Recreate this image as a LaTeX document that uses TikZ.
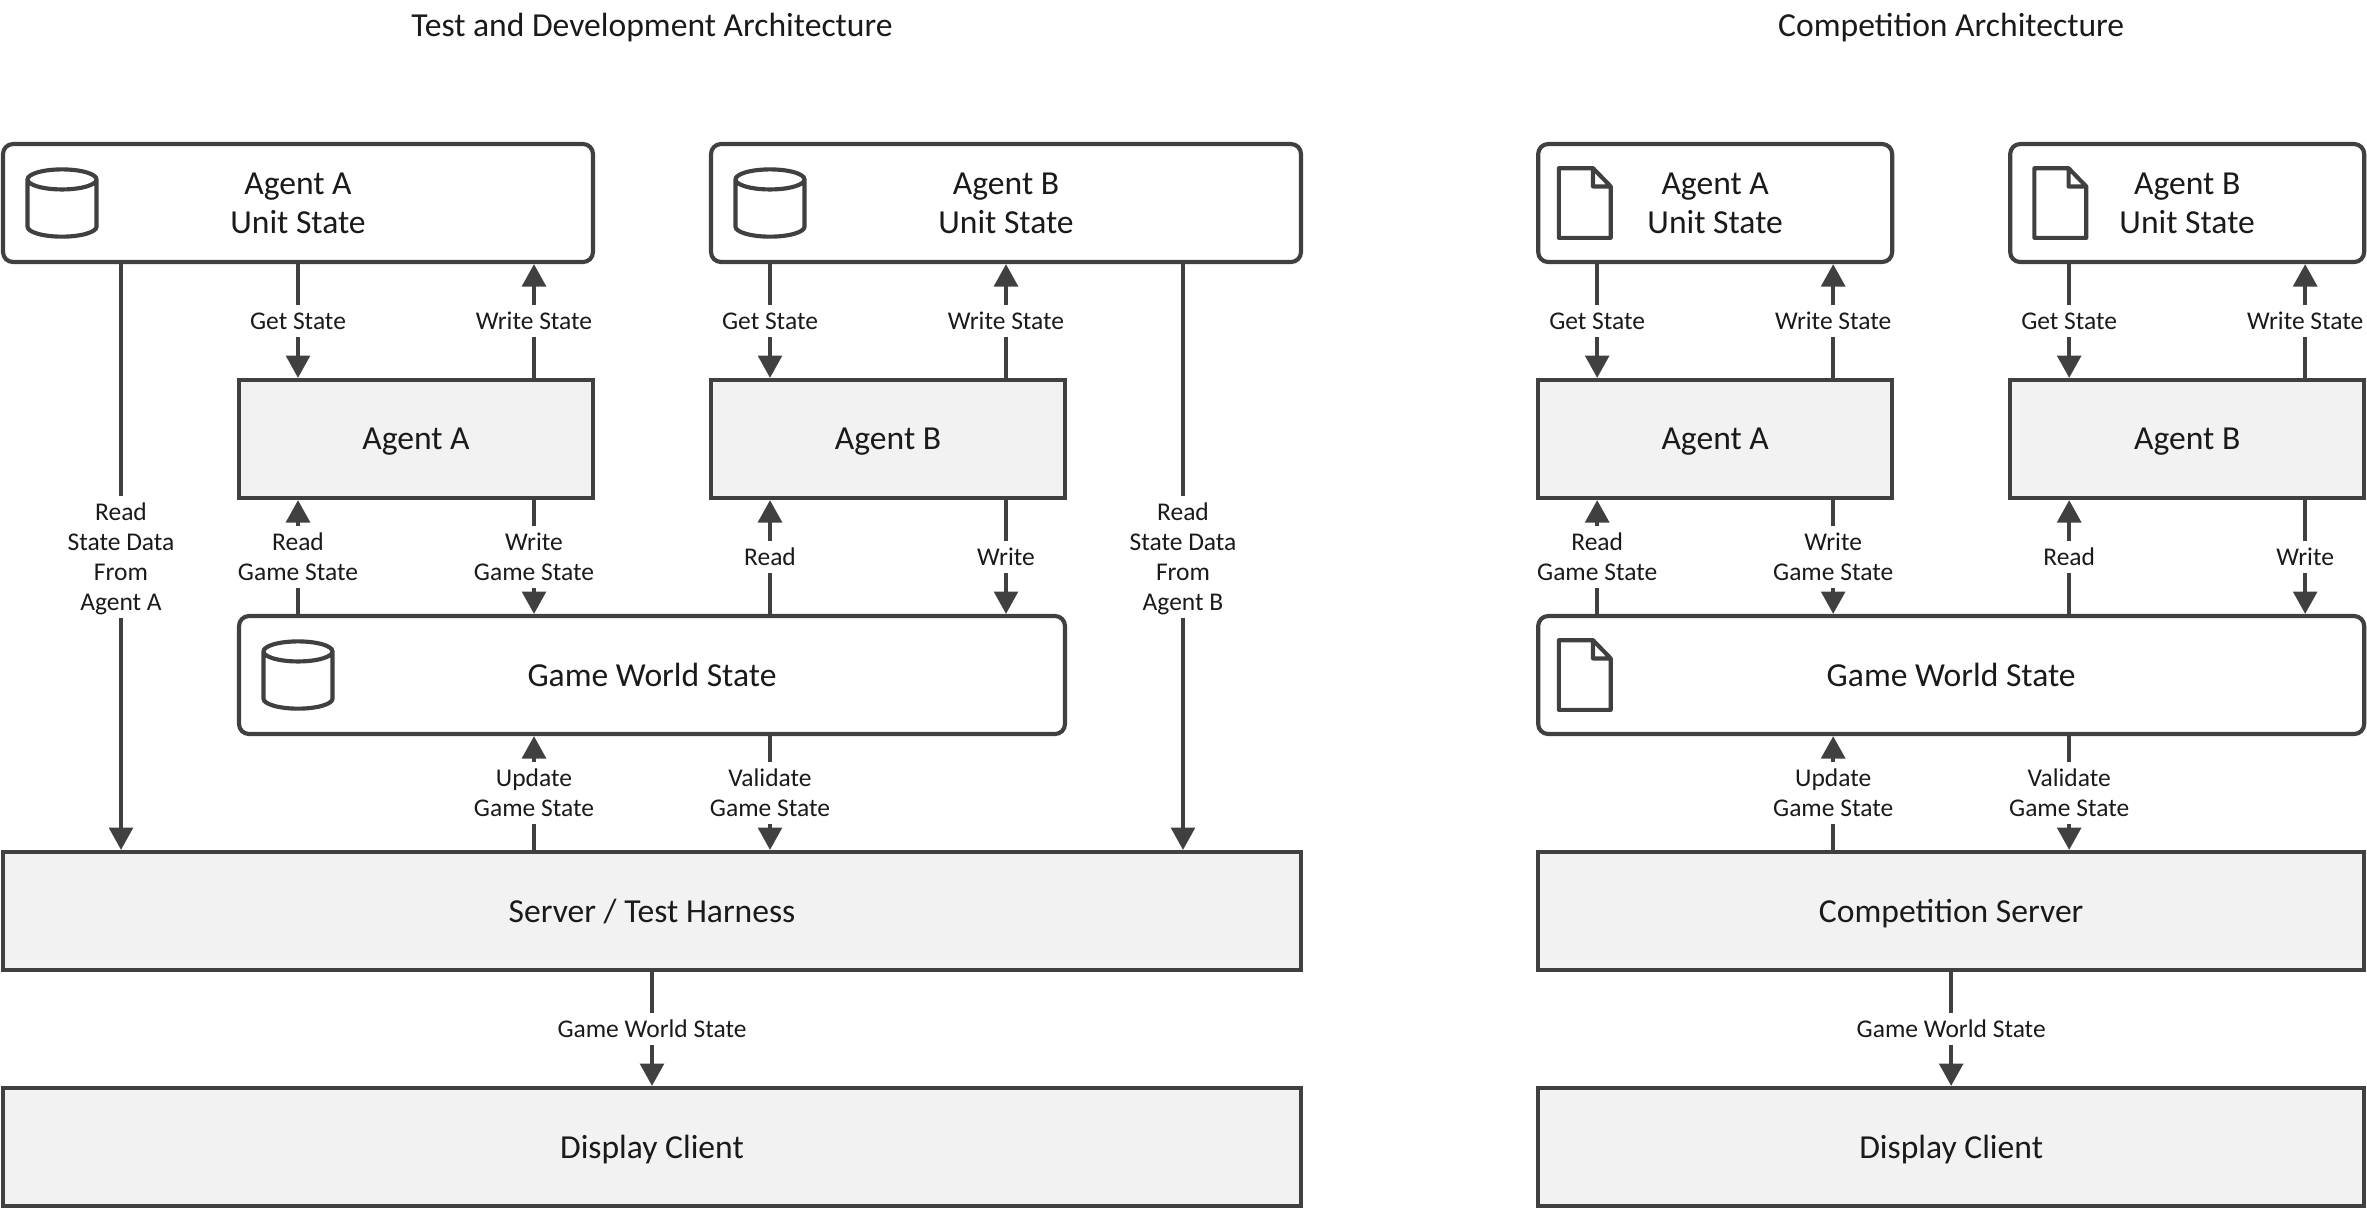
\documentclass[tikz,border=0pt]{standalone}
\usepackage{fontspec}
\setmainfont{Carlito}
\usetikzlibrary{arrows.meta}
\definecolor{linegray}{HTML}{404040}
\definecolor{boxgray}{HTML}{F2F2F2}
\definecolor{textgray}{HTML}{1A1A1A}
\tikzset{
  statebox/.style={draw=linegray, line width=2pt, fill=white, rounded corners=.17cm,
    minimum height=2cm, align=center, text=textgray, text depth=0pt, font=\fontsize{16.2}{18.8}\selectfont},
  procbox/.style={draw=linegray, line width=2pt, fill=boxgray,
    minimum height=2cm, align=center, text=textgray, text depth=0pt, font=\fontsize{16.2}{18.8}\selectfont},
  titletext/.style={text=textgray, text depth=0pt, font=\fontsize{16.2}{18.8}\selectfont},
  flow/.style={draw=linegray, line width=2pt, -{Triangle[length=3.8mm,width=4mm]}},
  lbl/.style={fill=white, align=center, text=textgray, text depth=0pt,
    inner xsep=1pt, inner ysep=3.6pt, font=\fontsize{12.3}{14.5}\selectfont},
  dbicon/.pic={
    \draw[draw=linegray, line width=2pt]
      (-.585,.4) -- (-.585,-.4) arc[start angle=180, end angle=360, x radius=.585, y radius=.17]
      -- (.585,.4)
      (0,.4) ellipse[x radius=.585, y radius=.17];
  },
  docicon/.pic={
    \draw[draw=linegray, line width=2pt, line join=round]
      (-.44,.59) -- (.14,.59) -- (.44,.28) -- (.44,-.59) -- (-.44,-.59) -- cycle
      (.14,.59) -- (.14,.28) -- (.44,.28);
  }
}
\begin{document}
\begin{tikzpicture}
  \useasboundingbox (-.051,2.441) rectangle (40.068,-18.068);
  % columns the connectors run on
  \coordinate (c2) at (2,0);
  \coordinate (c5) at (5,0);
  \coordinate (c9) at (9,0);
  \coordinate (c11) at (11,0);
  \coordinate (c13) at (13,0);
  \coordinate (c17) at (17,0);
  \coordinate (c20) at (20,0);
  \coordinate (c27) at (27.02,0);
  \coordinate (c31) at (31.02,0);
  \coordinate (c33) at (33.02,0);
  \coordinate (c35) at (35.02,0);
  \coordinate (c39) at (39.02,0);

  \node[titletext] (tdTitle) at (11,2.02) {Test and Development Architecture};
  \node[titletext] (compTitle) at (33.02,2.02) {Competition Architecture};

  % test and development
  \node[statebox, minimum width=10cm] (tdUnitA) at (5,-1) {Agent A\\Unit State};
  \node[statebox, minimum width=10cm] (tdUnitB) at (17,-1) {Agent B\\Unit State};
  \node[procbox, minimum width=6cm] (tdAgentA) at (7,-5) {Agent A};
  \node[procbox, minimum width=6cm] (tdAgentB) at (15,-5) {Agent B};
  \node[statebox, minimum width=14cm] (tdWorld) at (11,-9) {Game World State};
  \node[procbox, minimum width=22cm] (tdServer) at (11,-13) {Server / Test Harness};
  \node[procbox, minimum width=22cm] (tdClient) at (11,-17) {Display Client};
  \pic at (1,-1) {dbicon};
  \pic at (13,-1) {dbicon};
  \pic at (5,-9) {dbicon};

  \draw[flow] (tdUnitA.south -| c2) -- node[lbl] {Read\\State Data\\From\\Agent A} (tdServer.north -| c2);
  \draw[flow] (tdUnitA.south -| c5) -- node[lbl] {Get State} (tdAgentA.north -| c5);
  \draw[flow] (tdAgentA.north -| c9) -- node[lbl] {Write State} (tdUnitA.south -| c9);
  \draw[flow] (tdWorld.north -| c5) -- node[lbl] {Read\\Game State} (tdAgentA.south -| c5);
  \draw[flow] (tdAgentA.south -| c9) -- node[lbl] {Write\\Game State} (tdWorld.north -| c9);
  \draw[flow] (tdUnitB.south -| c13) -- node[lbl] {Get State} (tdAgentB.north -| c13);
  \draw[flow] (tdAgentB.north -| c17) -- node[lbl] {Write State} (tdUnitB.south -| c17);
  \draw[flow] (tdWorld.north -| c13) -- node[lbl] {Read} (tdAgentB.south -| c13);
  \draw[flow] (tdAgentB.south -| c17) -- node[lbl] {Write} (tdWorld.north -| c17);
  \draw[flow] (tdUnitB.south -| c20) -- node[lbl] {Read\\State Data\\From\\Agent B} (tdServer.north -| c20);
  \draw[flow] (tdServer.north -| c9) -- node[lbl] {Update\\Game State} (tdWorld.south -| c9);
  \draw[flow] (tdWorld.south -| c13) -- node[lbl] {Validate\\Game State} (tdServer.north -| c13);
  \draw[flow] (tdServer.south -| c11) -- node[lbl] {Game World State} (tdClient.north -| c11);

  % competition
  \node[statebox, minimum width=6cm] (compUnitA) at (29.02,-1) {Agent A\\Unit State};
  \node[statebox, minimum width=6cm] (compUnitB) at (37.02,-1) {Agent B\\Unit State};
  \node[procbox, minimum width=6cm] (compAgentA) at (29.02,-5) {Agent A};
  \node[procbox, minimum width=6cm] (compAgentB) at (37.02,-5) {Agent B};
  \node[statebox, minimum width=14cm] (compWorld) at (33.02,-9) {Game World State};
  \node[procbox, minimum width=14cm] (compServer) at (33.02,-13) {Competition Server};
  \node[procbox, minimum width=14cm] (compClient) at (33.02,-17) {Display Client};
  \pic at (26.81,-1) {docicon};
  \pic at (34.87,-1) {docicon};
  \pic at (26.81,-9) {docicon};

  \draw[flow] (compUnitA.south -| c27) -- node[lbl] {Get State} (compAgentA.north -| c27);
  \draw[flow] (compAgentA.north -| c31) -- node[lbl] {Write State} (compUnitA.south -| c31);
  \draw[flow] (compWorld.north -| c27) -- node[lbl] {Read\\Game State} (compAgentA.south -| c27);
  \draw[flow] (compAgentA.south -| c31) -- node[lbl] {Write\\Game State} (compWorld.north -| c31);
  \draw[flow] (compUnitB.south -| c35) -- node[lbl] {Get State} (compAgentB.north -| c35);
  \draw[flow] (compAgentB.north -| c39) -- node[lbl] {Write State} (compUnitB.south -| c39);
  \draw[flow] (compWorld.north -| c35) -- node[lbl] {Read} (compAgentB.south -| c35);
  \draw[flow] (compAgentB.south -| c39) -- node[lbl] {Write} (compWorld.north -| c39);
  \draw[flow] (compServer.north -| c31) -- node[lbl] {Update\\Game State} (compWorld.south -| c31);
  \draw[flow] (compWorld.south -| c35) -- node[lbl] {Validate\\Game State} (compServer.north -| c35);
  \draw[flow] (compServer.south -| c33) -- node[lbl] {Game World State} (compClient.north -| c33);
\end{tikzpicture}
\end{document}
